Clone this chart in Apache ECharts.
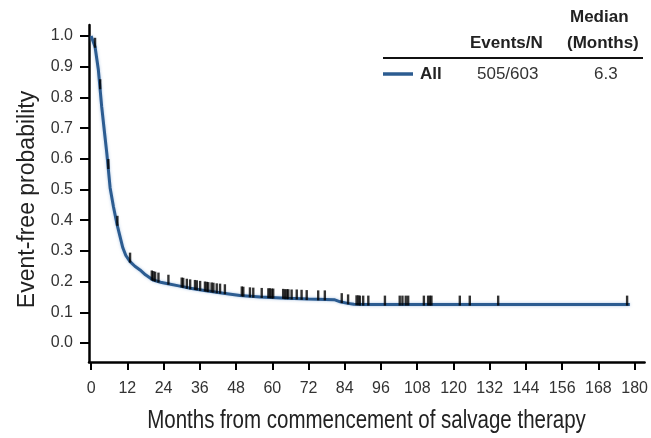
<!DOCTYPE html>
<html>
<head>
<meta charset="utf-8">
<script src="https://cdn.jsdelivr.net/npm/echarts@6/dist/echarts.min.js"></script>
<style>
html,body{margin:0;padding:0;background:#fff;}
#chart{width:651px;height:438px;}
</style>
</head>
<body>
<div id="chart"></div>
<script>
// Kaplan-Meier curve: [months, event-free probability]
const curveMonths = [0, 0.5, 1.3, 2.4, 3.5, 4.5, 5.2, 6.3, 7.4, 8.5, 9.5, 10.5, 11.5, 12.9, 14.5, 16.2, 18, 20.5, 23, 25, 29, 32.8, 38, 43.8, 49.3, 56, 64.8, 72, 80.5, 82.5, 85, 87, 90, 178.4];
const curveProb   = [1.0, 0.995, 0.965, 0.89, 0.77, 0.68, 0.618, 0.505, 0.444, 0.39, 0.35, 0.31, 0.285, 0.265, 0.25, 0.238, 0.222, 0.205, 0.198, 0.194, 0.186, 0.178, 0.17, 0.162, 0.155, 0.15, 0.146, 0.143, 0.141, 0.134, 0.129, 0.126, 0.125, 0.125];

// Censored observations
const censorMonths = [1.3, 3.0, 5.7, 8.7, 12.9, 20.1, 20.6, 21.2, 22.3, 25.6, 30.0, 30.5, 31.7, 32.8, 34.4, 35.0, 36.1, 37.7, 38.3, 38.8, 39.9, 40.5, 41.6, 42.7, 44.3, 49.9, 50.4, 52.6, 53.7, 56.5, 58.7, 59.2, 59.8, 60.3, 63.6, 64.2, 64.8, 65.3, 66.4, 68.1, 69.7, 71.4, 75.2, 77.4, 83.0, 85.1, 87.9, 88.5, 89.0, 90.1, 91.8, 97.3, 102.2, 103.1, 104.2, 105.0, 110.2, 111.6, 112.2, 112.7, 122.1, 125.4, 134.8, 177.5];
const censorProb   = [0.965, 0.83, 0.57, 0.385, 0.265, 0.207, 0.205, 0.203, 0.2, 0.193, 0.184, 0.183, 0.18, 0.178, 0.176, 0.175, 0.173, 0.171, 0.17, 0.169, 0.168, 0.167, 0.165, 0.164, 0.162, 0.155, 0.154, 0.152, 0.151, 0.15, 0.149, 0.149, 0.148, 0.148, 0.147, 0.146, 0.146, 0.146, 0.145, 0.145, 0.144, 0.143, 0.142, 0.142, 0.133, 0.129, 0.126, 0.126, 0.125, 0.125, 0.125, 0.125, 0.125, 0.125, 0.125, 0.125, 0.125, 0.125, 0.125, 0.125, 0.125, 0.125, 0.125, 0.125];

// Tick values
const xTicks = [0, 12, 24, 36, 48, 60, 72, 84, 96, 108, 120, 132, 144, 156, 168, 180];
const yTicks = [0.0, 0.1, 0.2, 0.3, 0.4, 0.5, 0.6, 0.7, 0.8, 0.9, 1.0];

// Text
const xTitle = 'Months from commencement of salvage therapy';
const yTitle = 'Event-free probability';
const seriesName = 'All';
const eventsN = '505/603';
const medianMonths = '6.3';

const lineColor = '#2c5c91';
const regular = "'Liberation Sans', Arial, sans-serif";
const boldFont = "bold 17px 'Liberation Sans', Arial, sans-serif";
const normFont = "17px 'Liberation Sans', Arial, sans-serif";

const chart = echarts.init(document.getElementById('chart'), null, {renderer: 'canvas'});

chart.setOption({
  animation: false,
  backgroundColor: '#ffffff',
  grid: {left: 89, right: 6, top: 25, bottom: 76, containLabel: false},
  xAxis: {
    type: 'value',
    min: -0.7,
    max: 183.3,
    axisLine: {show: true, onZero: false, lineStyle: {color: '#000', width: 2.5}},
    axisTick: {show: true, inside: false, length: 8, lineStyle: {color: '#000', width: 2}, customValues: xTicks},
    axisLabel: {show: true, margin: 19, fontFamily: regular, fontSize: 16, color: '#333', customValues: xTicks,
      formatter: v => String(v)},
    splitLine: {show: false}
  },
  yAxis: {
    type: 'value',
    min: -0.062,
    max: 1.036,
    name: yTitle,
    nameLocation: 'middle',
    nameGap: 50,
    nameTextStyle: {fontFamily: regular, fontSize: 23, color: '#222', padding: [0, 12, 0, 0]},
    axisLine: {show: true, onZero: false, lineStyle: {color: '#000', width: 2.5}},
    axisTick: {show: true, inside: false, length: 9, lineStyle: {color: '#000', width: 2}, customValues: yTicks},
    axisLabel: {show: true, margin: 16, fontFamily: regular, fontSize: 16, color: '#333', customValues: yTicks,
      formatter: v => v.toFixed(1)},
    splitLine: {show: false}
  },
  series: [
    {
      name: seriesName,
      type: 'line',
      data: curveMonths.map((m, i) => [m, curveProb[i]]),
      showSymbol: false,
      smooth: false,
      lineStyle: {color: lineColor, width: 3, shadowColor: 'rgba(90,140,200,0.5)', shadowBlur: 3},
      z: 2
    },
    {
      name: 'Censored',
      type: 'scatter',
      data: censorMonths.map((m, i) => [m, censorProb[i]]),
      symbol: 'rect',
      symbolSize: [2.4, 10],
      symbolOffset: [0, -4],
      itemStyle: {color: '#000'},
      z: 3
    }
  ],
  graphic: [
    {type: 'text', x: 366.5, y: 421, scaleX: 0.82, scaleY: 1,
      style: {text: xTitle, font: "25px 'Liberation Sans', Arial, sans-serif", fill: '#222', align: 'center', verticalAlign: 'middle'}},
    {type: 'text', left: 570, top: 9, style: {text: 'Median', font: boldFont, fill: '#222'}},
    {type: 'text', left: 567, top: 35, style: {text: '(Months)', font: boldFont, fill: '#222'}},
    {type: 'text', left: 470, top: 35, style: {text: 'Events/N', font: boldFont, fill: '#222'}},
    {type: 'line', shape: {x1: 383, y1: 58, x2: 643, y2: 58}, style: {stroke: '#111', lineWidth: 2}},
    {type: 'line', shape: {x1: 383, y1: 74, x2: 413, y2: 74}, style: {stroke: lineColor, lineWidth: 3.5}},
    {type: 'text', left: 420, top: 66, style: {text: seriesName, font: boldFont, fill: '#222'}},
    {type: 'text', left: 477, top: 66, style: {text: eventsN, font: normFont, fill: '#333'}},
    {type: 'text', left: 594, top: 66, style: {text: medianMonths, font: normFont, fill: '#333'}}
  ]
});
</script>
</body>
</html>
